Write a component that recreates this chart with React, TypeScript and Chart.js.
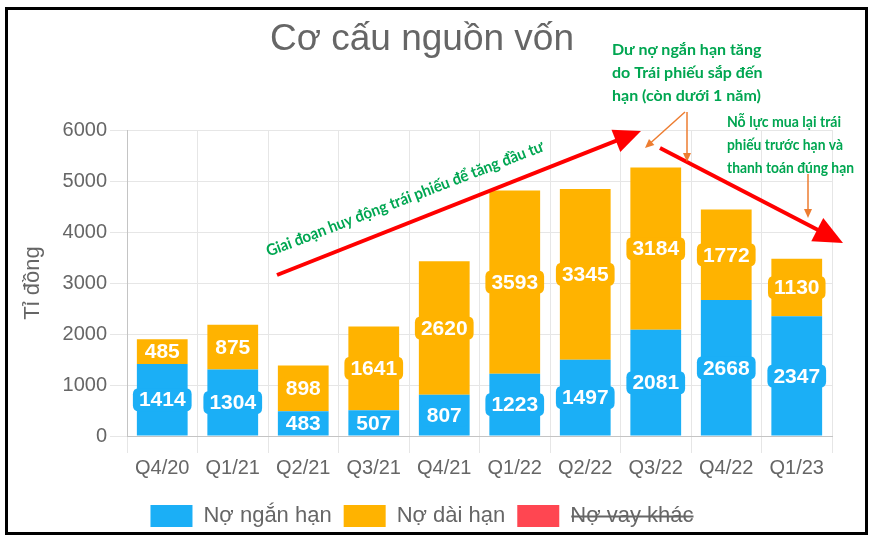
import React, { useEffect, useRef } from "react";
import { Chart, registerables } from "chart.js";

Chart.register(...registerables);

const categories = ["Q4/20", "Q1/21", "Q2/21", "Q3/21", "Q4/21", "Q1/22", "Q2/22", "Q3/22", "Q4/22", "Q1/23"];
const shortTermDebt = [1414, 1304, 483, 507, 807, 1223, 1497, 2081, 2668, 2347];
const longTermDebt = [485, 875, 898, 1641, 2620, 3593, 3345, 3184, 1772, 1130];
const otherLoans = [0, 0, 0, 0, 0, 0, 0, 0, 0, 0];
const seriesNames = ["Nợ ngắn hạn", "Nợ dài hạn", "Nợ vay khác"];
const seriesColors = ["#1BAFF6", "#FFB300", "#FF4651"];
const yMin = 0;
const yMax = 6000;
const yStep = 1000;
const chartTitle = "Cơ cấu nguồn vốn";
const yAxisTitle = "Tỉ đồng";
const noteUp = "Giai đoạn huy động trái phiếu để tăng đầu tư";
const noteShort = ["Dư nợ ngắn hạn tăng", "do Trái phiếu sắp đến", "hạn (còn dưới 1 năm)"];
const noteBuyback = ["Nỗ lực mua lại trái", "phiếu trước hạn và", "thanh toán đúng hạn"];

const FONT = "'Liberation Sans', Arial, sans-serif";
const NOTE_FONT = "bold 16px Lato, 'Open Sans', sans-serif";

function roundRect(ctx: CanvasRenderingContext2D, x: number, y: number, w: number, h: number, r: number) {
  ctx.beginPath();
  ctx.moveTo(x + r, y);
  ctx.lineTo(x + w - r, y);
  ctx.quadraticCurveTo(x + w, y, x + w, y + r);
  ctx.lineTo(x + w, y + h - r);
  ctx.quadraticCurveTo(x + w, y + h, x + w - r, y + h);
  ctx.lineTo(x + r, y + h);
  ctx.quadraticCurveTo(x, y + h, x, y + h - r);
  ctx.lineTo(x, y + r);
  ctx.quadraticCurveTo(x, y, x + r, y);
  ctx.closePath();
}

const barLabels = {
  id: "barLabels",
  afterDatasetsDraw(chart: any) {
    const ctx: CanvasRenderingContext2D = chart.ctx;
    ctx.save();
    ctx.font = `bold 21px ${FONT}`;
    ctx.textAlign = "center";
    ctx.textBaseline = "middle";
    chart.data.datasets.forEach((ds: any, i: number) => {
      if (!chart.isDatasetVisible(i)) return;
      const meta = chart.getDatasetMeta(i);
      meta.data.forEach((el: any, j: number) => {
        const v = ds.data[j];
        if (!v) return;
        const p = el.getProps(["x", "y", "base"], true);
        const cy = (p.y + p.base) / 2;
        const text = String(v);
        const w = ctx.measureText(text).width + 12;
        const h = 23;
        ctx.fillStyle = ds.backgroundColor;
        roundRect(ctx, p.x - w / 2, cy - h / 2, w, h, 6);
        ctx.fill();
        ctx.fillStyle = "#ffffff";
        ctx.fillText(text, p.x, cy + 1);
      });
    });
    ctx.restore();
  },
};

function arrow(
  ctx: CanvasRenderingContext2D,
  x1: number, y1: number, x2: number, y2: number,
  lw: number, headLen: number, headW: number, color: string
) {
  const a = Math.atan2(y2 - y1, x2 - x1);
  const c = Math.cos(a), s = Math.sin(a);
  const bx = x2 - headLen * c, by = y2 - headLen * s;
  ctx.strokeStyle = color;
  ctx.fillStyle = color;
  ctx.lineWidth = lw;
  ctx.lineCap = "butt";
  ctx.beginPath();
  ctx.moveTo(x1, y1);
  ctx.lineTo(bx + c * 2, by + s * 2);
  ctx.stroke();
  ctx.beginPath();
  ctx.moveTo(x2, y2);
  ctx.lineTo(bx + (s * headW) / 2, by - (c * headW) / 2);
  ctx.lineTo(bx - (s * headW) / 2, by + (c * headW) / 2);
  ctx.closePath();
  ctx.fill();
}

const annotations = {
  id: "annotations",
  afterDraw(chart: any) {
    const ctx: CanvasRenderingContext2D = chart.ctx;
    ctx.save();
    // red trend arrows
    arrow(ctx, 277, 275, 641, 131, 4, 27, 24, "#FF0000");
    arrow(ctx, 660, 148, 843, 243, 4, 29, 26, "#FF0000");
    // thin orange pointers
    arrow(ctx, 685, 112, 645, 148, 1.5, 9, 8, "#ED7D31");
    arrow(ctx, 687, 112, 687, 162, 1.5, 9, 8, "#ED7D31");
    arrow(ctx, 808, 174, 808, 218, 1.5, 9, 8, "#ED7D31");
    // green notes
    ctx.fillStyle = "#00A651";
    ctx.font = NOTE_FONT;
    ctx.textAlign = "left";
    ctx.textBaseline = "middle";
    const w1 = [156, 160, 158];
    noteShort.forEach((t, k) => ctx.fillText(t, 612, 50 + k * 23, w1[k]));
    const w2 = [114, 116, 127];
    noteBuyback.forEach((t, k) => ctx.fillText(t, 727, 122 + k * 23, w2[k]));
    ctx.translate(405, 199);
    ctx.rotate((-21 * Math.PI) / 180);
    ctx.textAlign = "center";
    ctx.fillText(noteUp, 0, 0, 296);
    ctx.restore();
  },
};

export default function App() {
  const ref = useRef<HTMLCanvasElement | null>(null);

  useEffect(() => {
    if (!ref.current) return;
    Chart.defaults.font.family = FONT;
    const chart = new Chart(ref.current, {
      type: "bar",
      data: {
        labels: categories,
        datasets: [
          { label: seriesNames[0], data: shortTermDebt, backgroundColor: seriesColors[0], borderWidth: 0 },
          { label: seriesNames[1], data: longTermDebt, backgroundColor: seriesColors[1], borderWidth: 0 },
          { label: seriesNames[2], data: otherLoans, backgroundColor: seriesColors[2], borderWidth: 0, hidden: true },
        ],
      },
      options: {
        responsive: false,
        animation: false,
        layout: { padding: { left: 12, right: 41, top: 0, bottom: 3 } },
        plugins: {
          title: {
            display: true,
            text: chartTitle,
            color: "#666",
            font: { size: 37, weight: "normal", family: FONT },
            padding: { top: 18, bottom: 67.6 },
          },
          legend: {
            position: "bottom",
            labels: {
              color: "#666",
              font: { size: 22, family: FONT },
              boxWidth: 42,
              boxHeight: 22,
              padding: 12,
            },
          },
          tooltip: { enabled: false },
        },
        scales: {
          x: {
            stacked: true,
            grid: { color: "#e6e6e6", tickLength: 17 },
            border: { color: "#c4c4c4" },
            ticks: { color: "#666", font: { size: 20 }, padding: 3, maxRotation: 0 },
            afterFit: (s: any) => { s.height = 57; },
          },
          y: {
            stacked: true,
            min: yMin,
            max: yMax,
            grid: { color: "#e6e6e6", tickLength: 17 },
            border: { color: "#c4c4c4" },
            ticks: {
              stepSize: yStep,
              color: "#666",
              font: { size: 20 },
              padding: 3,
              callback: (v: any) => String(v),
            },
            title: { display: true, text: yAxisTitle, color: "#666", font: { size: 22 }, padding: { top: 8, bottom: 4 } },
            afterFit: (s: any) => { s.width = 115; },
          },
        },
      },
      plugins: [barLabels, annotations],
    } as any);
    return () => chart.destroy();
  }, []);

  return (
    <div style={{ position: "absolute", left: 0, top: 0, width: 873, height: 540, background: "#fff" }}>
      <div
        style={{
          position: "absolute",
          left: 5,
          top: 7,
          width: 863,
          height: 528,
          boxSizing: "border-box",
          border: "3px solid #000",
        }}
      />
      <canvas ref={ref} width={873} height={540} style={{ position: "absolute", left: 0, top: 0 }} />
    </div>
  );
}
